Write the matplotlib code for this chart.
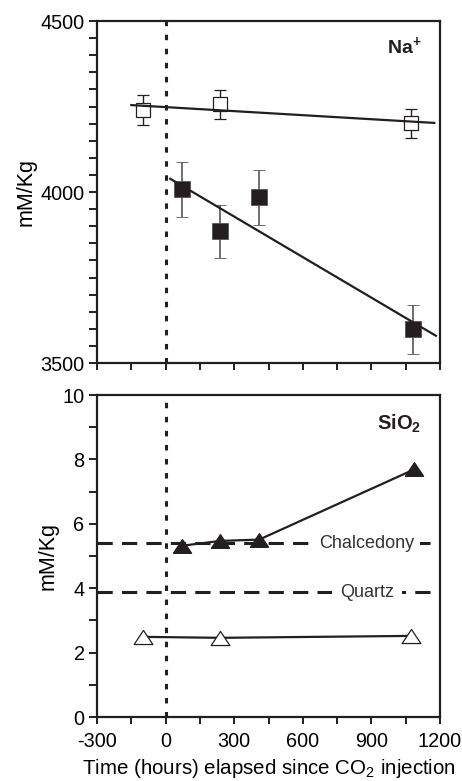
import numpy as np
import matplotlib
matplotlib.use("Agg")
import matplotlib.pyplot as plt
from matplotlib.ticker import MultipleLocator
from matplotlib.path import Path

plt.rcParams['font.family'] = ['Liberation Sans', 'DejaVu Sans']
plt.rcParams['mathtext.fontset'] = 'custom'
plt.rcParams['mathtext.rm'] = 'Liberation Sans'
plt.rcParams['mathtext.bf'] = 'Liberation Sans:bold'
plt.rcParams['mathtext.default'] = 'regular'
plt.rcParams['axes.unicode_minus'] = False

# Na+ (mM/Kg)
na_open_t = [-100, 240, 1075]
na_open = [4240, 4256, 4201]
na_open_err = [43, 43, 42]
na_fill_t = [72, 240, 409, 1080]
na_fill = [4008, 3885, 3984, 3598]
na_fill_err = [80, 78, 80, 72]

# SiO2 (mM/Kg)
si_open_t = [-100, 240, 1075]
si_open = [2.49, 2.46, 2.52]
si_fill_t = [72, 240, 409, 1087]
si_fill = [5.32, 5.47, 5.51, 7.69]
chalcedony = 5.39
quartz = 3.87

INK = '#231f20'
# slightly flattened triangle marker
tri = Path([(-1, -0.75), (1, -0.75), (0, 0.75), (-1, -0.75)],
           [Path.MOVETO, Path.LINETO, Path.LINETO, Path.CLOSEPOLY])

fig = plt.figure(figsize=(4.62, 7.81), dpi=100)
ax1 = fig.add_axes([0.21, 0.5352, 0.7424, 0.4379])
ax2 = fig.add_axes([0.21, 0.0819, 0.7424, 0.4123])

for ax in (ax1, ax2):
    ax.set_xlim(-300, 1200)
    ax.xaxis.set_major_locator(MultipleLocator(300))
    ax.xaxis.set_minor_locator(MultipleLocator(150))
    for s in ax.spines.values():
        s.set_linewidth(1.6)
        s.set_color(INK)
    ax.tick_params(which='both', direction='out', width=1.4, color=INK, labelsize=14.3)
    ax.tick_params(axis='x', which='both', length=5, pad=6)
    ax.tick_params(axis='y', which='both', length=6, pad=3)
    ax.axvline(0, color=INK, lw=2.2, ls=(0, (1.8, 2.8)), zorder=1)
    ax.set_ylabel('mM/Kg', fontsize=15.5, labelpad=3)

# top panel - Na+
ax1.set_ylim(3500, 4500)
ax1.yaxis.set_major_locator(MultipleLocator(500))
ax1.yaxis.set_minor_locator(MultipleLocator(50))
ax1.tick_params(axis='x', which='both', labelbottom=False)

ax1.errorbar(na_open_t, na_open, yerr=na_open_err, fmt='s', ms=10.5, mfc='white',
             mec=INK, mew=0.9, ecolor=INK, elinewidth=1.0, capsize=4, capthick=1.0, zorder=3)
ax1.errorbar(na_fill_t, na_fill, yerr=na_fill_err, fmt='s', ms=11, mfc=INK,
             mec='#555555', mew=0.6, ecolor='#555555', elinewidth=1.2, capsize=4, capthick=1.0, zorder=3)

p = np.polyfit(na_open_t, na_open, 1)
xs = np.array([-150, 1175])
ax1.plot(xs, np.polyval(p, xs), color=INK, lw=1.6, zorder=4)
p = np.polyfit(na_fill_t, na_fill, 1)
xs = np.array([20, 1182])
ax1.plot(xs, np.polyval(p, xs), color=INK, lw=1.6, zorder=4)

ax1.text(0.945, 0.895, 'Na$^\\mathbf{+}$', transform=ax1.transAxes, ha='right', va='bottom',
         fontsize=14, fontweight='bold', color=INK)

# bottom panel - SiO2
ax2.set_ylim(0, 10)
ax2.yaxis.set_major_locator(MultipleLocator(2))
ax2.yaxis.set_minor_locator(MultipleLocator(1))
ax2.set_xlabel('Time (hours) elapsed since CO$_2$ injection', fontsize=14.8, labelpad=4)

ax2.axhline(chalcedony, color=INK, lw=2.2, ls=(0, (5, 3)), zorder=1)
ax2.axhline(quartz, color=INK, lw=2.2, ls=(0, (5, 3)), zorder=1)
ax2.text(880, chalcedony, 'Chalcedony', ha='center', va='center', fontsize=13, color='#333333',
         bbox=dict(fc='white', ec='none', pad=4), zorder=2)
ax2.text(880, quartz, 'Quartz', ha='center', va='center', fontsize=13, color='#333333',
         bbox=dict(fc='white', ec='none', pad=6), zorder=2)

ax2.plot(si_fill_t, si_fill, color=INK, lw=1.6, marker=tri, ms=13, mfc=INK, mec=INK, zorder=3)
ax2.plot(si_open_t, si_open, color=INK, lw=1.6, marker=tri, ms=13.5, mfc='white', mec=INK,
         mew=0.9, zorder=3)

ax2.text(0.945, 0.875, 'SiO$_\\mathbf{2}$', transform=ax2.transAxes, ha='right', va='bottom',
         fontsize=14.5, fontweight='bold', color=INK)

fig.savefig('out.png', dpi=100)
